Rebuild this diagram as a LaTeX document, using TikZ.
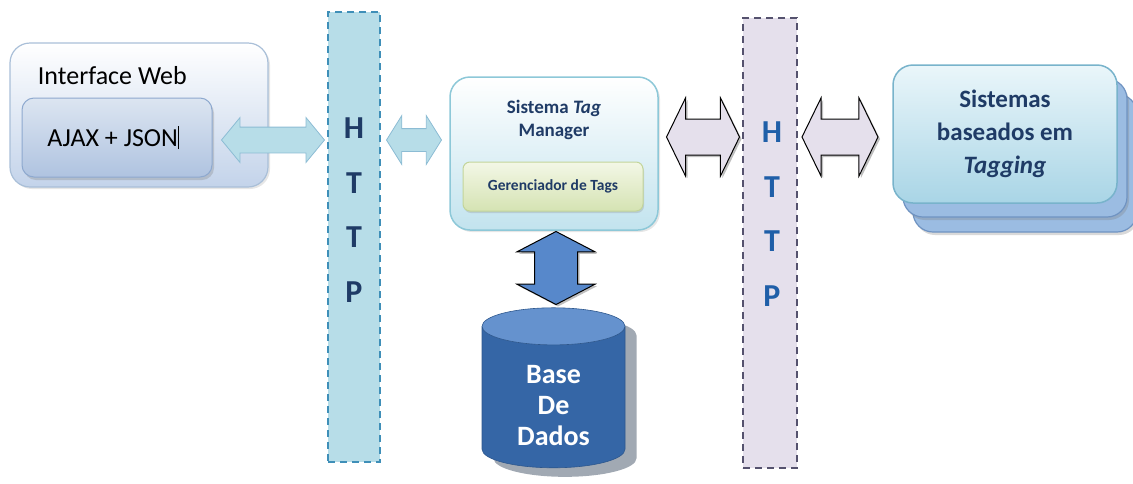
\documentclass[tikz,border=0pt]{standalone}
\usepackage{fontspec}
\setmainfont{Carlito}
\usepackage{xcolor}
\usepackage{tikz}
\usetikzlibrary{shapes.geometric, shapes.arrows, shadows, positioning}
\definecolor{webline}{HTML}{A9BFD8}
\definecolor{webbottom}{HTML}{C3D3EA}
\definecolor{ajaxtop}{HTML}{DCE5F1}
\definecolor{ajaxbottom}{HTML}{AFC3E0}
\definecolor{ajaxline}{HTML}{8EA9CF}
\definecolor{httpcyan}{HTML}{B7DDE8}
\definecolor{httpcyanline}{HTML}{3F8FB8}
\definecolor{httplilac}{HTML}{E5E0EC}
\definecolor{httplilacline}{HTML}{55526E}
\definecolor{navytext}{HTML}{1F3B66}
\definecolor{bluetext}{HTML}{1F5FA8}
\definecolor{sysline}{HTML}{8DC8D8}
\definecolor{sysbottom}{HTML}{C2E3EE}
\definecolor{gertop}{HTML}{F3F7E6}
\definecolor{gerbottom}{HTML}{D5E3B3}
\definecolor{gerline}{HTML}{C3D59A}
\definecolor{dbbody}{HTML}{3566A6}
\definecolor{dbtop}{HTML}{6592CE}
\definecolor{dbshadow}{HTML}{8A93A0}
\definecolor{dbarrow}{HTML}{5788CB}
\definecolor{tagtop}{HTML}{EAF6FA}
\definecolor{tagbottom}{HTML}{A9D5E6}
\definecolor{tagline}{HTML}{78B3CB}
\definecolor{tagback}{HTML}{9BBCE2}
\definecolor{tagbackline}{HTML}{6F93C2}
\tikzstyle{webbox} = [rectangle, rounded corners=20pt, minimum width=258pt, minimum height=144pt, draw=webline, line width=1.2pt, top color=white, bottom color=webbottom, drop shadow={shadow xshift=2pt, shadow yshift=-2pt, opacity=0.2}]
\tikzstyle{ajaxbox} = [rectangle, rounded corners=12pt, minimum width=190pt, minimum height=79pt, draw=ajaxline, line width=1pt, top color=ajaxtop, bottom color=ajaxbottom, drop shadow={shadow xshift=2pt, shadow yshift=-3pt, opacity=0.3}, font=\fontsize{26}{30}\selectfont]
\tikzstyle{httpcyanbar} = [rectangle, minimum width=52pt, minimum height=450pt, fill=httpcyan, draw=httpcyanline, dashed, line width=1.6pt, dash pattern=on 7pt off 5pt]
\tikzstyle{httplilacbar} = [rectangle, minimum width=54pt, minimum height=450pt, fill=httplilac, draw=httplilacline, dashed, line width=1.6pt, dash pattern=on 7pt off 5pt]
\tikzstyle{httpletters} = [align=center, font=\bfseries\fontsize{32}{54.7}\selectfont]
\tikzstyle{sysbox} = [rectangle, rounded corners=20pt, minimum width=208pt, minimum height=153pt, draw=sysline, line width=1.5pt, top color=white, bottom color=sysbottom, drop shadow={shadow xshift=2pt, shadow yshift=-2pt, opacity=0.2}]
\tikzstyle{gerbox} = [rectangle, rounded corners=7pt, minimum width=180pt, minimum height=49pt, draw=gerline, line width=1pt, top color=gertop, bottom color=gerbottom, drop shadow={shadow xshift=1pt, shadow yshift=-2pt, opacity=0.25}, text=navytext, font=\bfseries\fontsize{15.5}{18}\selectfont]
\tikzstyle{database} = [cylinder, shape border rotate=90, aspect=0.26, minimum width=143pt, minimum height=160pt, cylinder uses custom fill, cylinder body fill=dbbody, cylinder end fill=dbtop, draw=dbbody!85!black, line width=0.6pt]
\tikzstyle{dbshade} = [cylinder, shape border rotate=90, aspect=0.26, minimum width=143pt, minimum height=160pt, fill=dbshadow, opacity=0.8]
\tikzstyle{dbtext} = [align=center, text=white, font=\bfseries\fontsize{28}{31}\selectfont]
\tikzstyle{tagfront} = [rectangle, rounded corners=20pt, minimum width=224pt, minimum height=138pt, draw=tagline, line width=1.5pt, top color=tagtop, bottom color=tagbottom, text=navytext, align=center, font=\bfseries\fontsize{25}{33}\selectfont]
\tikzstyle{tagbehind} = [rectangle, rounded corners=20pt, minimum width=224pt, minimum height=138pt, draw=tagbackline, line width=1.2pt, fill=tagback, drop shadow={shadow xshift=2pt, shadow yshift=-3pt, opacity=0.3}]
\tikzstyle{cyanarrow} = [double arrow, minimum width=0pt, inner xsep=0pt, fill=httpcyan, draw=httpcyanline!60, line width=0.8pt]
\tikzstyle{lilacarrow} = [double arrow, minimum width=0pt, inner xsep=0pt, fill=httplilac, draw=black, line width=1pt, drop shadow={shadow xshift=2pt, shadow yshift=-2pt, opacity=0.5}]
\tikzstyle{bluearrow} = [double arrow, minimum width=0pt, inner xsep=0pt, fill=dbarrow, draw=black, line width=1pt, drop shadow={shadow xshift=2pt, shadow yshift=-2pt, opacity=0.5}]

\begin{document}
\begin{tikzpicture}[x=1pt, y=-1pt]
    \useasboundingbox (0,0) rectangle (1133,483);
    \node (web) [webbox] at (139,115) {};
    \node (webtitle) [anchor=west, font=\fontsize{26}{30}\selectfont] at ([xshift=25pt, yshift=-33pt]web.north west) {Interface Web};
    \node (ajax) [ajaxbox] at (117,137.5) {AJAX + JSON\rule[-0.12em]{0.7pt}{0.9em}\hspace*{8pt}};

    \node (http1) [httpcyanbar] at (354,237) {};
    \node (http1txt) [httpletters, text=navytext] at (354,210) {H\\T\\T\\P};

    \node (sys) [sysbox] at (554,153.5) {};
    \node (systitle) [align=center, text=navytext, font=\bfseries\fontsize{19}{23}\selectfont] at (554,120) {Sistema \textit{Tag}\\Manager};
    \node (ger) [gerbox] at (553,186.5) {Gerenciador de Tags};

    \node (dbsh) [dbshade] at (565,409) {\rule{136pt}{0pt}};
    \node (db) [database] at (553.5,400) {\rule{136pt}{0pt}};
    \node (dbtxt) [dbtext] at ([yshift=-6pt]db.center) {Base\\De\\Dados};

    \node (http2) [httplilacbar] at (770,243) {};
    \node (http2txt) [httpletters, text=bluetext] at (772,214) {H\\T\\T\\P};

    \node (tagb2) [tagbehind] at (1025,163) {};
    \node (tagb1) [tagbehind] at (1015,148) {};
    \node (tag) [tagfront] at (1005,134) {Sistemas\\baseados em\\\textit{Tagging}};

    \node (arr1) [cyanarrow, minimum height=103pt, inner ysep=12.5pt, double arrow head extend=9.5pt, double arrow tip angle=101] at (273,140) {};
    \node (arr2) [cyanarrow, minimum height=55pt, inner ysep=11pt, double arrow head extend=13pt, double arrow tip angle=116] at (414,140) {};
    \node (arr3) [lilacarrow, minimum height=73pt, inner ysep=17.5pt, double arrow head extend=21pt, double arrow tip angle=128] at (703,137) {};
    \node (arr4) [lilacarrow, minimum height=76pt, inner ysep=17.5pt, double arrow head extend=21pt, double arrow tip angle=128] at (840,137) {};
    \node (arrdb) [bluearrow, rotate=90, minimum height=73pt, inner ysep=21pt, double arrow head extend=17.5pt, double arrow tip angle=125] at (556,268) {};
\end{tikzpicture}
\end{document}
